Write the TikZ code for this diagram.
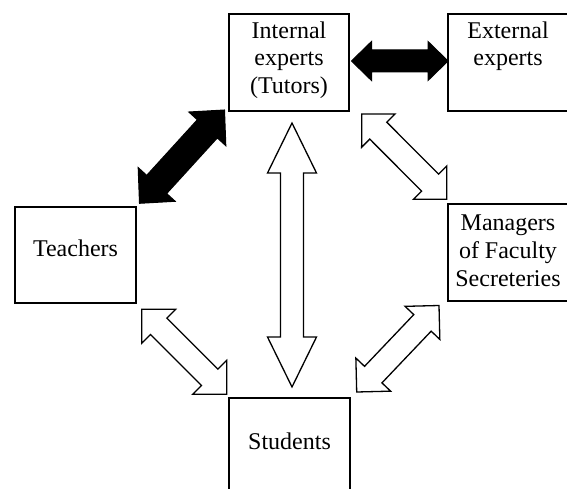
\documentclass[tikz,border=0pt]{standalone}
\usepackage{fontspec}
\setmainfont{Liberation Serif}
\usetikzlibrary{calc}

% Block double arrow between two tip points:
% #1 style, #2 first tip, #3 second tip, #4 head length, #5 head half-width, #6 shaft half-width
\newcommand\fatarrow[6]{%
  \coordinate (fa-p) at ($(#2)!#4!(#3)$);
  \coordinate (fa-q) at ($(#3)!#4!(#2)$);
  \draw[#1] (#2) -- ($(fa-p)!#5!90:(#3)$) -- ($(fa-p)!#6!90:(#3)$)
    -- ($(fa-q)!#6!-90:(#2)$) -- ($(fa-q)!#5!-90:(#2)$) -- (#3)
    -- ($(fa-q)!#5!90:(#2)$) -- ($(fa-q)!#6!90:(#2)$)
    -- ($(fa-p)!#6!-90:(#3)$) -- ($(fa-p)!#5!-90:(#3)$) -- cycle;}

\begin{document}
\begin{tikzpicture}[x=1pt, y=-1pt,
    box/.style={draw, fill=white, line width=1.3pt, inner sep=0pt,
      minimum width=120pt, minimum height=97pt},
    txt/.style={font=\fontsize{24}{27.6}\selectfont, align=center,
      inner sep=0pt, anchor=north},
    solidarrow/.style={draw=black, fill=black, line width=1pt, line join=miter},
    hollowarrow/.style={draw=black, fill=white, line width=1.3pt, line join=miter}]
  \useasboundingbox (0,0) rectangle (567,489);

  % boxes
  \node[box, label={[txt, yshift=-8pt]north:{Internal\\experts\\(Tutors)}}]
    (int) at (289,62.5) {};
  \node[box, label={[txt, yshift=-8pt]north:{External\\experts}}]
    (ext) at (508,62.5) {};
  \node[box, minimum width=121pt, minimum height=96pt,
    label={[txt, yshift=-33.6pt]north:{Teachers}}]
    (tea) at (75.5,255) {};
  \node[box, label={[txt, yshift=-11.6pt]north:{Managers\\of Faculty\\Secreteries}}]
    (man) at (508,252.5) {};
  \node[box, minimum width=121pt,
    label={[txt, yshift=-35.6pt]north:{Students}}]
    (stu) at (289.5,446.5) {};

  % arrow tips
  \coordinate (ie1) at (351.5,61);
  \coordinate (ie2) at (448,61);
  \coordinate (ti1) at (139.5,203.3);
  \coordinate (ti2) at (224.5,110);
  \coordinate (is1) at (292,123);
  \coordinate (is2) at (292,387);
  \coordinate (im1) at (361.7,114);
  \coordinate (im2) at (446.7,199.3);
  \coordinate (ts1) at (141.7,309.3);
  \coordinate (ts2) at (226.7,394.3);
  \coordinate (ms1) at (439,305.5);
  \coordinate (ms2) at (356.7,392);

  % connectors
  \fatarrow{solidarrow}{ie1}{ie2}{20pt}{19.5pt}{11pt}
  \fatarrow{solidarrow}{ti1}{ti2}{25.5pt}{25pt}{13.5pt}
  \fatarrow{hollowarrow}{is1}{is2}{50pt}{24.5pt}{11.5pt}
  \fatarrow{hollowarrow}{im1}{im2}{23.5pt}{23.5pt}{12pt}
  \fatarrow{hollowarrow}{ts1}{ts2}{24pt}{24pt}{11.6pt}
  \fatarrow{hollowarrow}{ms1}{ms2}{24pt}{24pt}{12pt}
\end{tikzpicture}
\end{document}
